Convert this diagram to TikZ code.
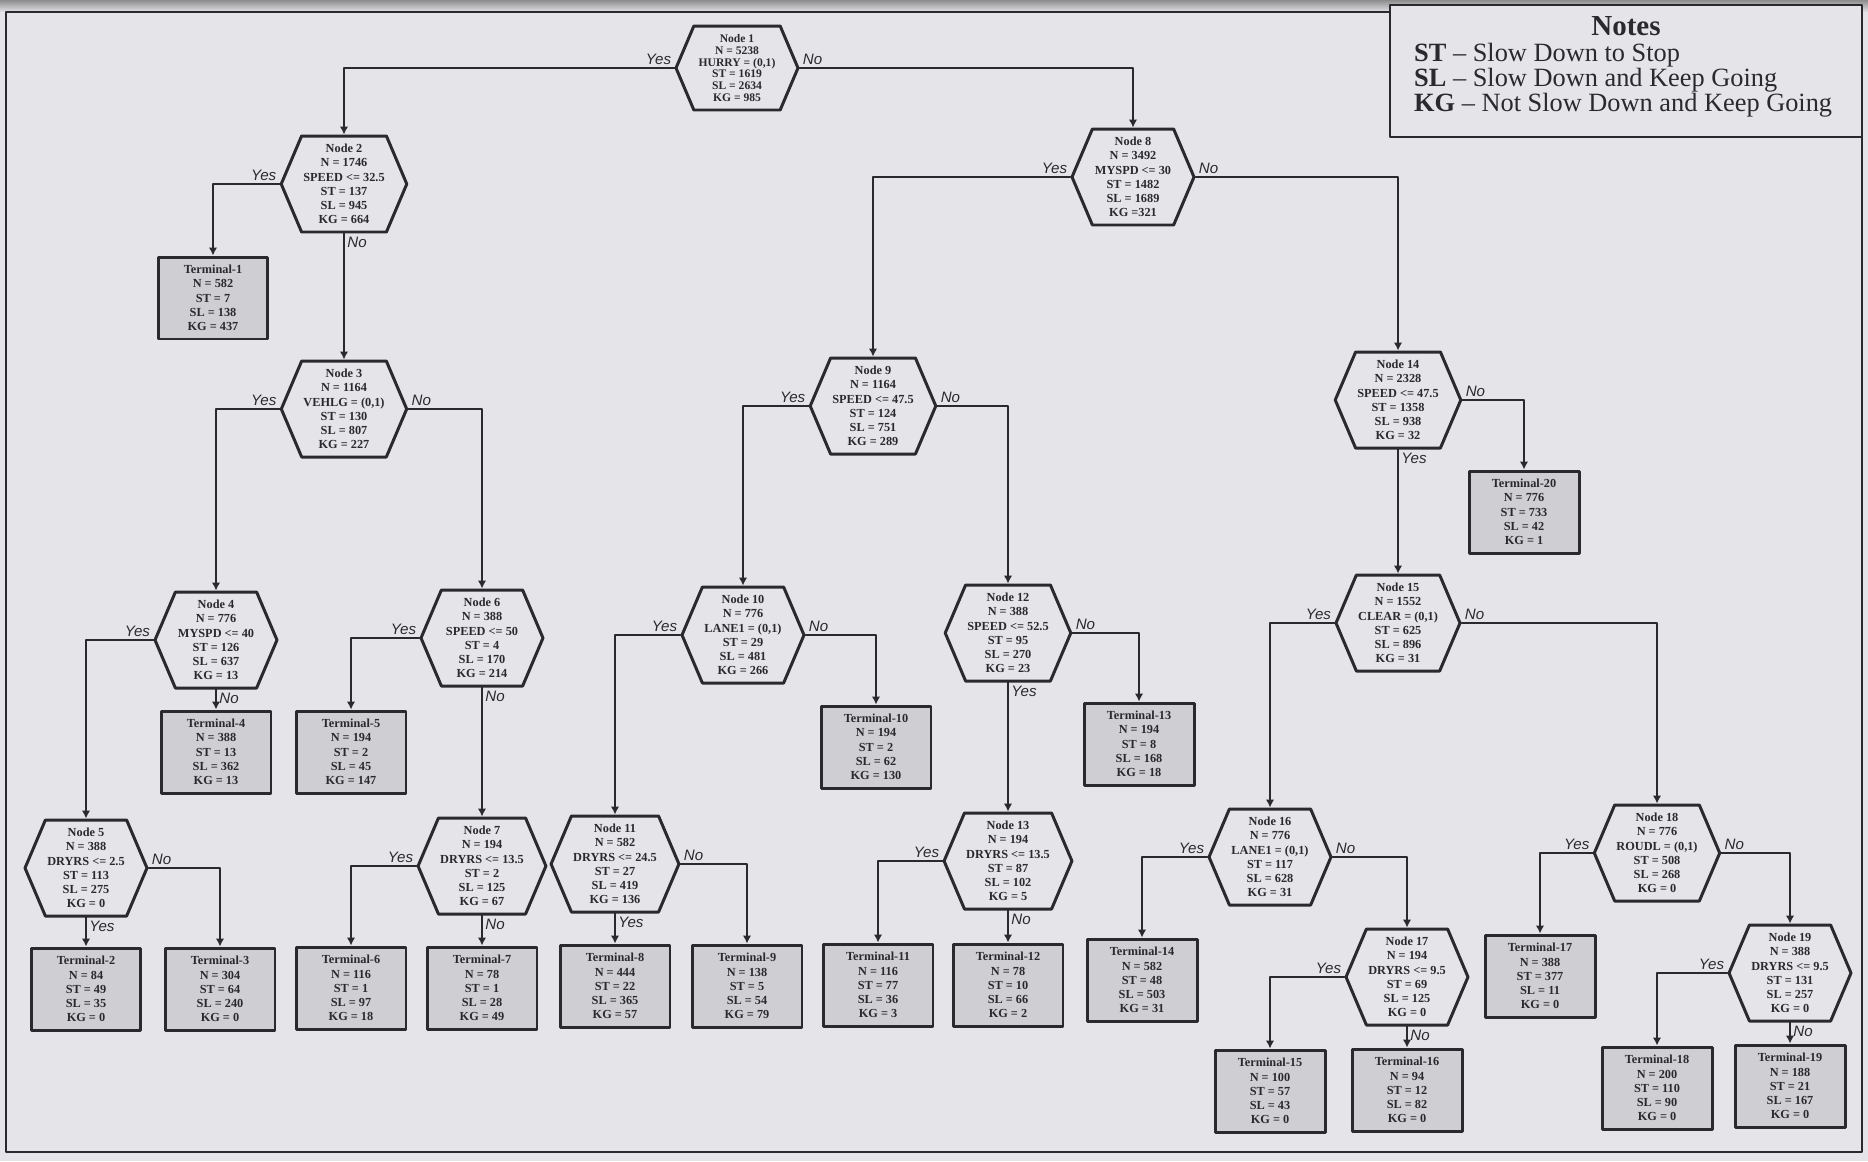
\documentclass[tikz,border=0pt]{standalone}
\usepackage{fontspec}
\setmainfont{Liberation Serif}
\newfontfamily\branchfont{Liberation Sans}
\usepackage{tikz}
\usetikzlibrary{arrows.meta,shapes.symbols}
\definecolor{scanbg}{RGB}{228,228,233}
\definecolor{leafgray}{RGB}{207,207,211}
\definecolor{inkline}{RGB}{42,42,46}
\tikzset{
  every picture/.append style={line cap=round,line join=round},
  tree hex/.style={shape=signal,signal to=east and west,signal pointer angle=134,
    draw=inkline,line width=1.7pt,fill=scanbg,text=inkline,align=center,
    minimum width=2.44cm,minimum height=1.92cm,inner sep=1pt,
    font=\fontsize{7pt}{8.1pt}\selectfont\bfseries},
  tree root/.style={tree hex,minimum height=1.68cm,
    font=\fontsize{6.6pt}{6.7pt}\selectfont\bfseries},
  tree leaf/.style={rectangle,draw=inkline,line width=1.7pt,fill=leafgray,
    text=inkline,align=center,minimum width=2.2cm,minimum height=1.64cm,
    inner sep=1pt,font=\fontsize{7pt}{8.1pt}\selectfont\bfseries},
  tree edge/.style={draw=inkline,line width=1.4pt,-{Latex[length=1.6mm,width=1.7mm]}},
  tree yes/.style={font=\branchfont\itshape\fontsize{8.6pt}{9pt}\selectfont,
    text=inkline,inner sep=1.2pt,anchor=south east},
  tree no/.style={tree yes,anchor=south west},
  tree down/.style={tree yes,anchor=north west},
  tree note/.style={text=inkline,align=left,font=\fontsize{15pt}{14.2pt}\selectfont}
}

\begin{document}
\begin{tikzpicture}[x=0.02cm,y=-0.02cm]
  \useasboundingbox (0,0) rectangle (1868,1161);
  \fill[scanbg] (0,0) rectangle (1868,1161);
  \shade[top color=black!45,bottom color=scanbg] (0,0) rectangle (1868,12);
  \draw[inkline,line width=1.3pt] (6,12) rectangle (1862,1152);

  % legend
  \draw[inkline,line width=1.3pt,fill=scanbg] (1390,5) rectangle (1862,137);
  \node[text=inkline,font=\fontsize{16.5pt}{16.5pt}\selectfont\bfseries] (notestitle) at (1626,26) {Notes};
  \node[tree note,anchor=west] (notesbody) at (1408,80)
    {\textbf{ST} -- Slow Down to Stop\\ \textbf{SL} -- Slow Down and Keep Going\\ \textbf{KG} -- Not Slow Down and Keep Going};

  % splitting nodes
  \node[tree root] (n1) at (737,68) {Node 1\\N = 5238\\HURRY = (0,1)\\ST = 1619\\SL = 2634\\KG = 985};
  \node[tree hex] (n2) at (344,184) {Node 2\\N = 1746\\SPEED <= 32.5\\ST = 137\\SL = 945\\KG = 664};
  \node[tree hex] (n3) at (344,409) {Node 3\\N = 1164\\VEHLG = (0,1)\\ST = 130\\SL = 807\\KG = 227};
  \node[tree hex] (n4) at (216,640) {Node 4\\N = 776\\MYSPD <= 40\\ST = 126\\SL = 637\\KG = 13};
  \node[tree hex] (n5) at (86,868) {Node 5\\N = 388\\DRYRS <= 2.5\\ST = 113\\SL = 275\\KG = 0};
  \node[tree hex] (n6) at (482,638) {Node 6\\N = 388\\SPEED <= 50\\ST = 4\\SL = 170\\KG = 214};
  \node[tree hex] (n7) at (482,866) {Node 7\\N = 194\\DRYRS <= 13.5\\ST = 2\\SL = 125\\KG = 67};
  \node[tree hex] (n8) at (1133,177) {Node 8\\N = 3492\\MYSPD <= 30\\ST = 1482\\SL = 1689\\KG =321};
  \node[tree hex] (n9) at (873,406) {Node 9\\N = 1164\\SPEED <= 47.5\\ST = 124\\SL = 751\\KG = 289};
  \node[tree hex] (n10) at (743,635) {Node 10\\N = 776\\LANE1 = (0,1)\\ST = 29\\SL = 481\\KG = 266};
  \node[tree hex] (n11) at (615,864) {Node 11\\N = 582\\DRYRS <= 24.5\\ST = 27\\SL = 419\\KG = 136};
  \node[tree hex] (n12) at (1008,633) {Node 12\\N = 388\\SPEED <= 52.5\\ST = 95\\SL = 270\\KG = 23};
  \node[tree hex] (n13) at (1008,861) {Node 13\\N = 194\\DRYRS <= 13.5\\ST = 87\\SL = 102\\KG = 5};
  \node[tree hex] (n14) at (1398,400) {Node 14\\N = 2328\\SPEED <= 47.5\\ST = 1358\\SL = 938\\KG = 32};
  \node[tree hex] (n15) at (1398,623) {Node 15\\N = 1552\\CLEAR = (0,1)\\ST = 625\\SL = 896\\KG = 31};
  \node[tree hex] (n16) at (1270,857) {Node 16\\N = 776\\LANE1 = (0,1)\\ST = 117\\SL = 628\\KG = 31};
  \node[tree hex] (n17) at (1407,977) {Node 17\\N = 194\\DRYRS <= 9.5\\ST = 69\\SL = 125\\KG = 0};
  \node[tree hex] (n18) at (1657,853) {Node 18\\N = 776\\ROUDL = (0,1)\\ST = 508\\SL = 268\\KG = 0};
  \node[tree hex] (n19) at (1790,973) {Node 19\\N = 388\\DRYRS <= 9.5\\ST = 131\\SL = 257\\KG = 0};

  % terminal nodes
  \foreach \k/\x/\y/\n/\st/\sl/\kg in {
      1/213/298/582/7/138/437, 2/86/989/84/49/35/0, 3/220/989/304/64/240/0,
      4/216/752/388/13/362/13, 5/351/752/194/2/45/147, 6/351/988/116/1/97/18,
      7/482/988/78/1/28/49, 8/615/986/444/22/365/57, 9/747/986/138/5/54/79,
      10/876/747/194/2/62/130, 11/878/985/116/77/36/3, 12/1008/985/78/10/66/2,
      13/1139/744/194/8/168/18, 14/1142/980/582/48/503/31, 15/1270/1091/100/57/43/0,
      16/1407/1090/94/12/82/0, 17/1540/976/388/377/11/0, 18/1657/1088/200/110/90/0,
      19/1790/1086/188/21/167/0, 20/1524/512/776/733/42/1}
    \node[tree leaf] (t\k) at (\x,\y) {Terminal-\k\\N = \n\\ST = \st\\SL = \sl\\KG = \kg};

  % branches
  \foreach \p/\c in {n1/n2,n2/t1,n3/n4,n4/n5,n6/t5,n7/t6,n8/n9,n9/n10,n10/n11,
      n13/t11,n15/n16,n16/t14,n17/t15,n18/t17,n19/t18}
    \draw[tree edge] (\p.west) -| (\c.north) node[pos=0,tree yes] {Yes};
  \foreach \p/\c in {n1/n8,n3/n6,n5/t3,n8/n14,n9/n12,n10/t10,n11/t9,n12/t13,
      n14/t20,n15/n18,n16/n17,n18/n19}
    \draw[tree edge] (\p.east) -| (\c.north) node[pos=0,tree no] {No};
  \foreach \p/\c in {n5/t2,n11/t8,n12/n13,n14/n15}
    \draw[tree edge] (\p.south) -- (\p.south |- \c.north) node[pos=0,tree down] {Yes};
  \foreach \p/\c in {n2/n3,n4/t4,n6/n7,n7/t7,n13/t12,n17/t16,n19/t19}
    \draw[tree edge] (\p.south) -- (\p.south |- \c.north) node[pos=0,tree down] {No};
\end{tikzpicture}
\end{document}
